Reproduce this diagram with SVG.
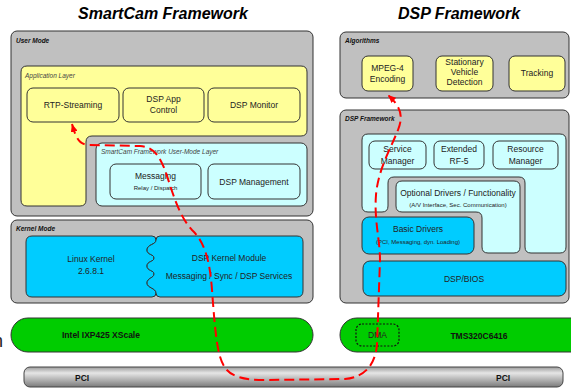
<svg xmlns="http://www.w3.org/2000/svg" width="571" height="389" viewBox="0 0 571 389">
  <style>
    .frame { fill: #c0c0c0; stroke: #333; stroke-width: 1; }
    .yellow { fill: #ffff99; stroke: #333; stroke-width: 1; }
    .lcyan { fill: #ccffff; stroke: #333; stroke-width: 1; }
    .cyan { fill: #00ccff; stroke: #333; stroke-width: 1; }
    .green { fill: #00cc00; stroke: #333; stroke-width: 1; }
    .title { font-family: "Liberation Sans", Arial, sans-serif; font-size: 16px; font-weight: bold; font-style: italic; fill: #000; text-anchor: middle; }
    .lbl { font-family: "Liberation Sans", Arial, sans-serif; font-size: 6.5px; font-weight: bold; font-style: italic; fill: #111; }
    .sub { font-family: "Liberation Sans", Arial, sans-serif; font-size: 6.5px; font-style: italic; fill: #444; }
    .t { font-family: "Liberation Sans", Arial, sans-serif; font-size: 8.5px; fill: #222; text-anchor: middle; }
    .s { font-family: "Liberation Sans", Arial, sans-serif; font-size: 6px; fill: #222; text-anchor: middle; }
    .b { font-family: "Liberation Sans", Arial, sans-serif; font-size: 8.5px; font-weight: bold; fill: #111; }
    .flow { fill: none; stroke: #ff0000; stroke-width: 2; stroke-dasharray: 10 5; }
  </style>
  <defs>
    <linearGradient id="pciGrad" x1="0" y1="0" x2="0" y2="1">
      <stop offset="0" stop-color="#9a9a9a"/>
      <stop offset="0.3" stop-color="#e6e6e6"/>
      <stop offset="1" stop-color="#7a7a7a"/>
    </linearGradient>
    <marker id="arrow" viewBox="0 0 8 7" refX="8" refY="3.5" markerWidth="8" markerHeight="7" markerUnits="userSpaceOnUse" orient="auto-start-reverse">
      <path d="M0,0 L8,3.5 L0,7 Z" fill="#ff0000"/>
    </marker>
  </defs>

  <rect width="571" height="389" fill="#ffffff"/>

  <!-- headings -->
  <text class="title" x="163" y="19">SmartCam Framework</text>
  <text class="title" x="459" y="19">DSP Framework</text>

  <!-- clipped side text -->
  <text x="-7" y="347" font-family="Liberation Sans, Arial, sans-serif" font-size="18" fill="#222">n</text>

  <!-- ===== SmartCam side ===== -->
  <g id="user-mode">
    <rect class="frame" x="11" y="31" width="302" height="185" rx="6"/>
    <text class="lbl" x="16" y="43">User Mode</text>
  </g>

  <g id="application-layer">
    <path class="yellow" d="M27,66 H301 Q307,66 307,72 V130 Q307,136 301,136 H92 Q86,136 86,142 V200 Q86,206 80,206 H27 Q21,206 21,200 V72 Q21,66 27,66 Z"/>
    <text class="sub" x="25" y="78">Application Layer</text>
  </g>

  <g id="rtp-streaming">
    <rect class="yellow" x="27" y="88" width="92" height="34" rx="6"/>
    <text class="t" x="73" y="108">RTP-Streaming</text>
  </g>
  <g id="dsp-app-control">
    <rect class="yellow" x="123" y="88" width="81" height="34" rx="6"/>
    <text class="t" x="163.5" y="102">DSP App</text>
    <text class="t" x="163.5" y="113">Control</text>
  </g>
  <g id="dsp-monitor">
    <rect class="yellow" x="208" y="88" width="92" height="34" rx="6"/>
    <text class="t" x="254" y="108">DSP Monitor</text>
  </g>

  <g id="user-mode-layer">
    <rect class="lcyan" x="96" y="143" width="211" height="63" rx="6"/>
    <text class="sub" x="101" y="154">SmartCam Framework User-Mode Layer</text>
  </g>
  <g id="messaging">
    <rect class="lcyan" x="110" y="164" width="91" height="35" rx="6"/>
    <text class="t" x="155.5" y="179">Messaging</text>
    <text class="s" x="155.5" y="190">Relay / Dispatch</text>
  </g>
  <g id="dsp-management">
    <rect class="lcyan" x="208" y="164" width="92" height="35" rx="6"/>
    <text class="t" x="254" y="185">DSP Management</text>
  </g>

  <g id="kernel-mode">
    <rect class="frame" x="11" y="220" width="302" height="83" rx="6"/>
    <text class="lbl" x="16" y="231">Kernel Mode</text>
  </g>
  <g id="linux-kernel">
    <path class="cyan" d="M32,236 H152 Q156,236 156,240 C156,245 147,244 147,250 C147,255 154,254 154,258 C154,262 147,261 147,266 C147,271 154,270 154,274 C154,278 147,278 147,283 C147,288 156,288 156,293 Q156,297 152,297 H32 Q26,297 26,291 V242 Q26,236 32,236 Z"/>
    <text class="t" x="91" y="262">Linux Kernel</text>
    <text class="t" x="91" y="274">2.6.8.1</text>
  </g>
  <g id="dsp-kernel-module">
    <path class="cyan" d="M160,236 H297 Q303,236 303,242 V291 Q303,297 297,297 H160 Q156,297 156,293 C156,288 147,288 147,283 C147,278 154,278 154,274 C154,270 147,271 147,266 C147,261 154,262 154,258 C154,254 147,255 147,250 C147,244 156,245 156,240 Q156,236 160,236 Z"/>
    <text class="t" x="229" y="261">DSP Kernel Module</text>
    <text class="t" x="229" y="279">Messaging / Sync / DSP Services</text>
  </g>

  <g id="ixp425">
    <rect class="green" x="11" y="318" width="302" height="34" rx="17"/>
    <text class="b" x="62" y="338">Intel IXP425 XScale</text>
  </g>

  <g id="pci">
    <rect x="24" y="367" width="539" height="20" rx="6" fill="url(#pciGrad)" stroke="#444" stroke-width="1"/>
    <text class="b" x="75" y="381">PCI</text>
    <text class="b" x="496" y="381">PCI</text>
  </g>

  <!-- ===== DSP side ===== -->
  <g id="algorithms">
    <rect class="frame" x="340" y="32" width="229" height="66" rx="6"/>
    <text class="lbl" x="345" y="43">Algorithms</text>
  </g>
  <g id="mpeg4-encoding">
    <rect class="yellow" x="362" y="56" width="51" height="35" rx="6"/>
    <text class="t" x="387.5" y="71">MPEG-4</text>
    <text class="t" x="387.5" y="82">Encoding</text>
  </g>
  <g id="stationary-vehicle-detection">
    <rect class="yellow" x="436" y="56" width="57" height="35" rx="6"/>
    <text class="t" x="464.5" y="65">Stationary</text>
    <text class="t" x="464.5" y="75">Vehicle</text>
    <text class="t" x="464.5" y="85">Detection</text>
  </g>
  <g id="tracking">
    <rect class="yellow" x="509" y="56" width="56" height="35" rx="6"/>
    <text class="t" x="537" y="76">Tracking</text>
  </g>

  <g id="dsp-framework">
    <rect class="frame" x="340" y="110" width="229" height="193" rx="6"/>
    <text class="lbl" x="345" y="121">DSP Framework</text>
    <path class="lcyan" d="M368,134 H560 Q566,134 566,140 V247 Q566,253 560,253 H531 Q525,253 525,247 V183 Q525,177 519,177 H394 Q388,177 388,183 V206 Q388,212 382,212 H368 Q362,212 362,206 V140 Q362,134 368,134 Z"/>
  </g>
  <g id="service-manager">
    <rect class="lcyan" x="369" y="141" width="57" height="28" rx="6"/>
    <text class="t" x="397.5" y="152">Service</text>
    <text class="t" x="397.5" y="164">Manager</text>
  </g>
  <g id="extended-rf5">
    <rect class="lcyan" x="434" y="141" width="50" height="28" rx="6"/>
    <text class="t" x="459" y="152">Extended</text>
    <text class="t" x="459" y="164">RF-5</text>
  </g>
  <g id="resource-manager">
    <rect class="lcyan" x="493" y="141" width="65" height="28" rx="6"/>
    <text class="t" x="525.5" y="152">Resource</text>
    <text class="t" x="525.5" y="164">Manager</text>
  </g>
  <g id="optional-drivers">
    <path class="lcyan" d="M402,181 H514 Q520,181 520,187 V247 Q520,253 514,253 H488 Q482,253 482,247 V218 Q482,212 476,212 H402 Q396,212 396,206 V187 Q396,181 402,181 Z"/>
    <text class="t" x="458" y="196">Optional Drivers / Functionality</text>
    <text class="s" x="458" y="207">(A/V Interface, Sec. Communication)</text>
  </g>
  <g id="basic-drivers">
    <rect class="cyan" x="362" y="217" width="112" height="37" rx="7"/>
    <text class="t" x="418" y="232">Basic Drivers</text>
    <text class="s" x="418" y="244">(PCI, Messaging, dyn. Loading)</text>
  </g>
  <g id="dsp-bios">
    <rect class="cyan" x="363" y="261" width="203" height="35" rx="7"/>
    <text class="t" x="464" y="282">DSP/BIOS</text>
  </g>

  <g id="tms320c6416">
    <rect class="green" x="340" y="318" width="250" height="34" rx="17"/>
    <text class="b" x="479" y="339" text-anchor="middle">TMS320C6416</text>
  </g>
  <g id="dma">
    <rect x="356" y="324" width="43" height="22" rx="6" fill="none" stroke="#111" stroke-width="1.2" stroke-dasharray="2 1.5"/>
    <text class="t" x="377.5" y="338" fill="#333">DMA</text>
  </g>

  <!-- data path -->
  <g id="connectors">
    <path class="flow" marker-start="url(#arrow)" marker-end="url(#arrow)" d="M72,124 C76,138 79,145 90,145 L140,146 C155,147 160,158 165,170 C172,190 178,215 192,230 C205,242 210,262 212,290 C215,330 217,355 224,366 C230,377 245,380 265,380 L345,379 C365,377 375,365 377,345 L380,260 C380,240 374,220 376,195 C378,170 390,150 398,130 C404,115 400,106 388,95"/>
  </g>
</svg>
